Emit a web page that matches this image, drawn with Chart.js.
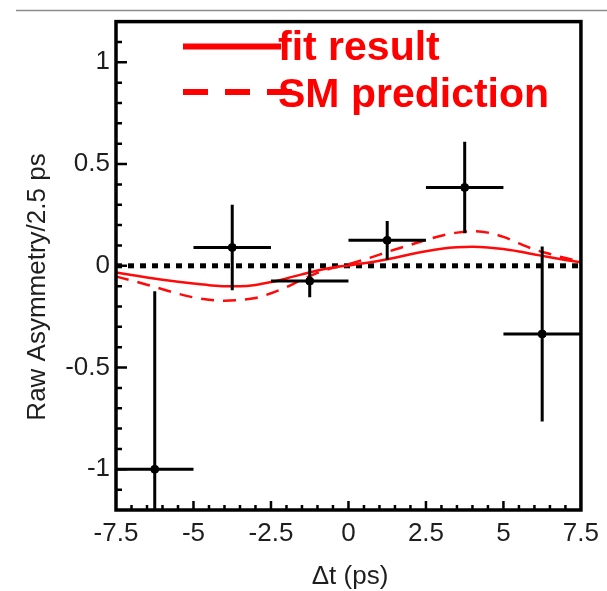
<!DOCTYPE html>
<html>
<head>
<meta charset="utf-8">
<script src="https://cdn.jsdelivr.net/npm/chart.js@4.4.1/dist/chart.umd.min.js"></script>
<style>
  html, body { margin: 0; padding: 0; background: #fff; }
  #wrap { position: relative; width: 607px; height: 591px; }
</style>
</head>
<body>
<div id="wrap"><canvas id="chart-asym" width="607" height="591"></canvas></div>
<script>
// Binned data points (bin edges + centres)
const binEdges = [-7.5, -5, -2.5, 0, 2.5, 5, 7.5];
const binCenters = [-6.25, -3.75, -1.25, 1.25, 3.75, 6.25];
const asymValues = [-1.0, 0.09, -0.075, 0.125, 0.385, -0.335];
const asymErrors = [0.875, 0.21, 0.08, 0.095, 0.225, 0.43];

// Curves
const curveTimes = [-7.5, -7, -6.5, -6, -5.5, -5, -4.5, -4, -3.5, -3, -2.5, -2, -1.5, -1, -0.5, 0,
  0.5, 1, 1.5, 2, 2.5, 3, 3.5, 4, 4.5, 5, 5.5, 6, 6.5, 7, 7.5];
const fitValues = [-0.033, -0.045, -0.057, -0.068, -0.078, -0.087, -0.095, -0.1, -0.1, -0.094, -0.08,
  -0.062, -0.042, -0.023, -0.008, 0.002, 0.012, 0.025, 0.04, 0.057, 0.072, 0.084, 0.091, 0.093,
  0.09, 0.082, 0.07, 0.056, 0.042, 0.029, 0.017];
const smValues = [-0.053, -0.072, -0.093, -0.115, -0.137, -0.155, -0.167, -0.172, -0.168, -0.158,
  -0.135, -0.105, -0.068, -0.035, -0.01, 0.008, 0.03, 0.055, 0.08, 0.103, 0.127, 0.148, 0.163,
  0.17, 0.163, 0.142, 0.11, 0.08, 0.058, 0.038, 0.02];

const xTickLabels = ['-7.5', '-5', '-2.5', '0', '2.5', '5', '7.5'];
const yTickLabels = ['-1', '-0.5', '0', '0.5', '1'];

const FONT = '"Liberation Sans", Arial, Helvetica, sans-serif';
const TEXT = '#1e1e1e';

const zip = (xs, ys) => xs.map((x, i) => ({ x, y: ys[i] }));
const isMult = (v, step) => Math.abs(v / step - Math.round(v / step)) < 1e-6;

// ==================== DATASETS ====================

const errorSets = [];
binCenters.forEach((c, i) => {
  const y = asymValues[i], e = asymErrors[i];
  errorSets.push({
    data: [{ x: binEdges[i], y }, { x: binEdges[i + 1], y }],
    showLine: true, borderColor: '#000', borderWidth: 3, pointRadius: 0, order: 0
  });
  errorSets.push({
    data: [{ x: c, y: y - e }, { x: c, y: y + e }],
    showLine: true, borderColor: '#000', borderWidth: 3, pointRadius: 0, order: 0
  });
});

const datasets = [
  {
    label: 'points',
    data: zip(binCenters, asymValues),
    pointRadius: 4, pointBackgroundColor: '#000', pointBorderColor: '#000', order: 0
  },
  ...errorSets,
  {
    label: 'fit result',
    data: zip(curveTimes, fitValues),
    showLine: true, borderColor: '#ff0a0a', borderWidth: 2.5, pointRadius: 0,
    cubicInterpolationMode: 'monotone', order: 1
  },
  {
    label: 'SM prediction',
    data: zip(curveTimes, smValues),
    showLine: true, borderColor: '#ff0a0a', borderWidth: 2.5, borderDash: [13, 9], pointRadius: 0,
    cubicInterpolationMode: 'monotone', order: 1
  },
  {
    label: 'zero',
    data: [{ x: binEdges[0], y: 0 }, { x: binEdges[binEdges.length - 1], y: 0 }],
    showLine: true, borderColor: '#000', borderWidth: 5, borderDash: [6, 6], borderCapStyle: 'butt',
    pointRadius: 0, order: 2
  }
];

// ==================== FRAME, TICKS, TEXT ====================

const decorPlugin = {
  id: 'decor',
  afterDraw(chart) {
    const { ctx, chartArea: a, scales } = chart;
    ctx.save();

    // grey rule at the very top
    ctx.strokeStyle = '#8c8c8c';
    ctx.lineWidth = 1.5;
    ctx.beginPath();
    ctx.moveTo(16, 10.5);
    ctx.lineTo(607, 10.5);
    ctx.stroke();

    // inward ticks
    ctx.strokeStyle = '#000';
    ctx.lineWidth = 2.5;
    ctx.beginPath();
    scales.y.ticks.forEach(t => {
      const py = scales.y.getPixelForValue(t.value);
      if (py <= a.top + 1 || py >= a.bottom - 1) return;
      const len = isMult(t.value, 0.5) ? 11 : 6;
      ctx.moveTo(a.left, py);
      ctx.lineTo(a.left + len, py);
    });
    scales.x.ticks.forEach(t => {
      const px = scales.x.getPixelForValue(t.value);
      if (px <= a.left + 1 || px >= a.right - 1) return;
      const len = isMult(t.value, 2.5) ? 9 : 5;
      ctx.moveTo(px, a.bottom);
      ctx.lineTo(px, a.bottom - len);
    });
    ctx.stroke();

    // frame
    ctx.lineWidth = 3.5;
    ctx.strokeRect(a.left, a.top, a.right - a.left, a.bottom - a.top);

    // axis titles
    ctx.fillStyle = TEXT;
    ctx.font = '26px ' + FONT;
    ctx.textAlign = 'center';
    ctx.textBaseline = 'middle';
    ctx.fillText('\u0394t (ps)', 350, 577);
    ctx.translate(38, 287);
    ctx.rotate(-Math.PI / 2);
    ctx.fillText('Raw Asymmetry/2.5 ps', 0, 0);
    ctx.restore();

    // legend
    ctx.save();
    ctx.strokeStyle = '#ff0000';
    ctx.lineWidth = 6;
    ctx.lineCap = 'butt';
    ctx.beginPath();
    ctx.moveTo(183, 46.5);
    ctx.lineTo(281, 46.5);
    ctx.stroke();
    ctx.setLineDash([25, 17]);
    ctx.beginPath();
    ctx.moveTo(183, 92);
    ctx.lineTo(292, 92);
    ctx.stroke();
    ctx.fillStyle = '#ff0000';
    ctx.font = 'bold 41px ' + FONT;
    ctx.textAlign = 'left';
    ctx.textBaseline = 'alphabetic';
    ctx.fillText('fit result', 278, 60);
    ctx.fillText('SM prediction', 278, 107);
    ctx.restore();
  }
};

// ==================== CHART ====================

new Chart(document.getElementById('chart-asym'), {
  type: 'scatter',
  data: { datasets },
  options: {
    responsive: false,
    animation: false,
    events: [],
    layout: { padding: { left: 0, top: 14, right: 22, bottom: 0 } },
    plugins: { legend: { display: false }, tooltip: { enabled: false } },
    scales: {
      x: {
        type: 'linear',
        min: -7.5, max: 7.5,
        grid: { display: false, drawTicks: false },
        border: { display: false },
        afterFit: (s) => { s.height = 81; },
        ticks: {
          stepSize: 0.5,
          autoSkip: false, maxRotation: 0, minRotation: 0,
          padding: 8,
          color: TEXT,
          font: { family: FONT, size: 26 },
          callback: (v) => {
            const i = xTickLabels.indexOf(String(Math.round(v * 10) / 10));
            return isMult(v, 2.5) && i >= 0 ? xTickLabels[i] : '';
          }
        }
      },
      y: {
        type: 'linear',
        min: -1.2, max: 1.2,
        grid: { display: false, drawTicks: false },
        border: { display: false },
        afterFit: (s) => { s.width = 116; },
        ticks: {
          stepSize: 0.1,
          autoSkip: false,
          padding: 6,
          color: TEXT,
          font: { family: FONT, size: 26 },
          callback: (v) => {
            const i = yTickLabels.indexOf(String(Math.round(v * 10) / 10));
            return isMult(v, 0.5) && i >= 0 ? yTickLabels[i] : '';
          }
        }
      }
    }
  },
  plugins: [decorPlugin]
});
</script>
</body>
</html>
